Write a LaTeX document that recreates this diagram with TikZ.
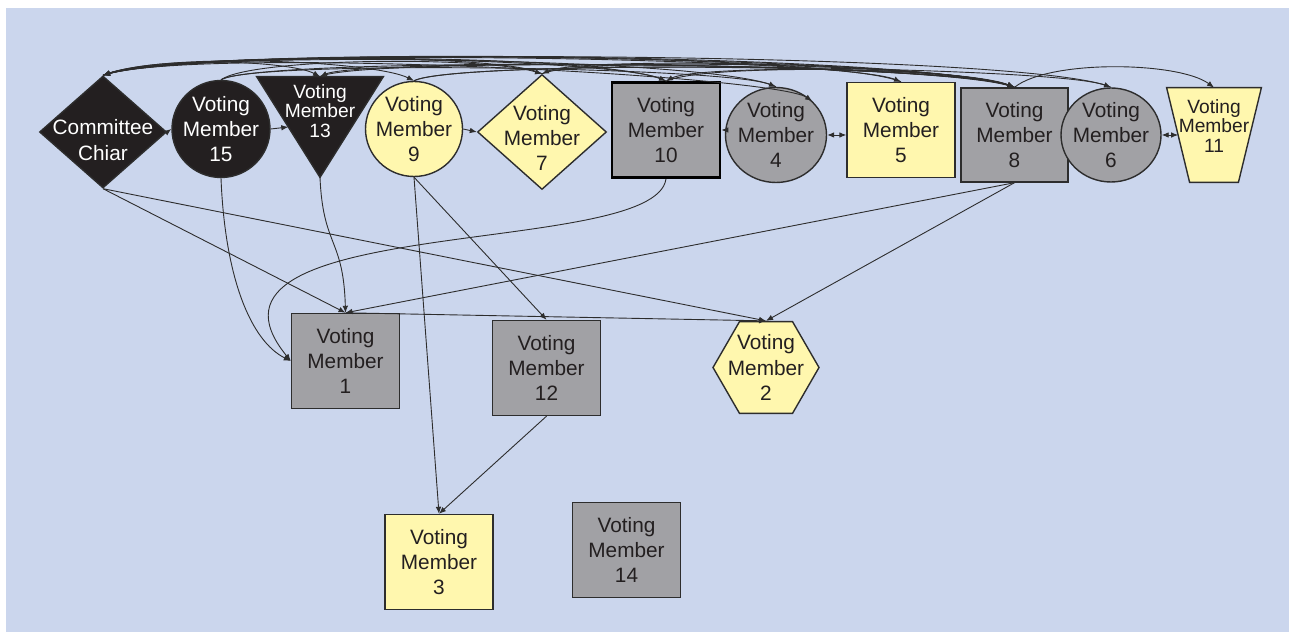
\documentclass[tikz,border=0pt]{standalone}
\usepackage{fontspec}
\setmainfont{Liberation Sans}
\usetikzlibrary{shapes.geometric,arrows.meta,calc}

\definecolor{bgblue}{RGB}{203,214,237}
\definecolor{memyellow}{RGB}{255,247,174}
\definecolor{memgray}{RGB}{161,161,165}
\definecolor{memblack}{RGB}{35,31,32}
\definecolor{lineblack}{RGB}{45,45,45}

\tikzset{
  member/.style={draw=lineblack, line width=0.7pt, inner sep=-8pt, align=center,
    text=memblack, font=\fontsize{10.4}{12.6}\selectfont},
  sqbox/.style={member, rectangle, minimum width=54pt, minimum height=47.5pt},
  rnd/.style={member, ellipse},
  diam/.style={member, diamond, inner sep=0pt},
  yel/.style={fill=memyellow},
  gry/.style={fill=memgray},
  blk/.style={fill=memblack, text=white},
  frame/.style={inner sep=0pt},
  memtext/.style={align=center, inner sep=0pt, text=memblack, font=\fontsize{10.4}{12.6}\selectfont},
  narrow/.style={align=center, inner sep=0pt, text=memblack, font=\fontsize{9.6}{9.9}\selectfont},
  edge/.style={draw=lineblack, line width=0.45pt, -{Latex[length=3.5pt,width=2.8pt]}},
  twoway/.style={edge, {Latex[length=3.5pt,width=2.8pt]}-{Latex[length=3.5pt,width=2.8pt]}},
}

\begin{document}
\begin{tikzpicture}[x=0.5pt,y=0.5pt]
  \fill[white] (0,0) rectangle (1289,632);
  \fill[bgblue] (6,0) rectangle (1289,624);
  \useasboundingbox (0,0) rectangle (1289,632);

  % top row
  \node[diam, blk, minimum width=63.5pt, minimum height=56pt] (chair) at (103,500) {};
  \node[memtext, text=white] (chairtext) at (103,492) {Committee\\Chiar};
  \node[rnd, blk, minimum width=49pt, minimum height=48.5pt] (vm15) at (221,503) {Voting\\Member\\15};
  \node[frame, minimum width=63pt, minimum height=50pt] (vm13) at (320,505) {};
  \filldraw[fill=memblack, draw=lineblack, line width=0.7pt] (vm13.north west) -- (vm13.north east) -- (vm13.south) -- cycle;
  \node[narrow, text=white] (vm13text) at (320,521) {Voting\\Member\\13};
  \node[rnd, yel, minimum width=48.5pt, minimum height=47.5pt] (vm9) at (414,503) {Voting\\Member\\9};
  \node[diam, yel, minimum width=64.5pt, minimum height=57.5pt] (vm7) at (542,500) {};
  \node[memtext] (vm7text) at (542,494) {Voting\\Member\\7};
  \node[sqbox, gry, draw=black, line width=1.4pt] (vm10) at (666,502) {Voting\\Member\\10};
  \node[rnd, gry, minimum width=50.5pt, minimum height=47.5pt] (vm4) at (776,497) {Voting\\Member\\4};
  \node[sqbox, yel] (vm5) at (901,502) {Voting\\Member\\5};
  \node[sqbox, gry, minimum width=53.5pt, minimum height=47pt] (vm8) at (1014.5,497) {Voting\\Member\\8};
  \node[rnd, gry, minimum width=50pt, minimum height=47pt] (vm6) at (1111,497) {Voting\\Member\\6};
  \node[frame, minimum width=47pt, minimum height=47pt] (vm11) at (1214,497) {};
  \filldraw[fill=memyellow, draw=lineblack, line width=0.7pt] (vm11.north west) -- (vm11.north east)
    -- ($(vm11.south east)+(-23,0)$) -- ($(vm11.south west)+(23,0)$) -- cycle;
  \node[narrow] (vm11text) at (1214,506) {Voting\\Member\\11};

  % lower rows
  \node[sqbox, gry] (vm1) at (345.5,271) {Voting\\Member\\1};
  \node[sqbox, gry] (vm12) at (546.5,264) {Voting\\Member\\12};
  \node[member, yel, regular polygon, regular polygon sides=6, minimum size=53pt] (vm2) at (766,264.5) {Voting\\Member\\2};
  \node[sqbox, yel] (vm3) at (439,70) {Voting\\Member\\3};
  \node[sqbox, gry] (vm14) at (626.5,82) {Voting\\Member\\14};

  % short links in the top row
  \draw[edge] (chair.east) -- (vm15.west);
  \draw[edge] (vm15.east) -- ($(vm13.north west)!0.5!(vm13.south)$);
  \draw[edge] (vm9.east) -- (vm7.west);
  \draw[edge] (vm4.west |- vm10.east) -- (vm10.east);
  \draw[twoway] (vm4.east) -- (vm4.east -| vm5.west);
  \draw[twoway] (vm6.east) -- ($(vm11.west)+(11.5,0)$);

  % bundle over the top row
  \draw[edge] (vm8.north) .. controls +(-80,34) and +(90,30) .. (chair.north);
  \draw[edge] (vm6.north) .. controls +(-80,36) and +(95,28) .. (chair.north);
  \draw[edge] (vm5.north) .. controls +(-70,30) and +(85,27) .. (chair.north);
  \draw[edge] (vm4.north) .. controls +(-60,30) and +(80,25) .. (chair.north);
  \draw[edge] (vm10.north) .. controls +(-50,28) and +(75,24) .. (chair.north);
  \draw[edge] (vm7.north) .. controls +(-40,22) and +(60,20) .. (chair.north);
  \draw[edge] (chair.north) .. controls +(90,32) and +(-80,30) .. (vm8.north);
  \draw[edge] (chair.north) .. controls +(50,20) and +(-30,16) .. (vm13.north);
  \draw[edge] (chair.north) .. controls +(60,24) and +(-40,20) .. (vm9.north);
  \draw[edge] (chair.north) .. controls +(80,28) and +(-50,22) .. (vm10.north);
  \draw[edge] (chair.north) .. controls +(90,30) and +(-40,26) .. (vm4.north east);
  \draw[edge] (chair.north) .. controls +(90,30) and +(-60,24) .. (vm5.north);
  \draw[edge] (vm15.north) .. controls +(30,22) and +(-60,18) .. (vm7.north);
  \draw[edge] (vm15.north) .. controls +(40,24) and +(-80,26) .. (vm8.north);
  \draw[edge] (vm15.north) .. controls +(30,20) and +(-50,20) .. (vm4.north);
  \draw[edge] (vm13.north) .. controls +(40,20) and +(-70,24) .. (vm8.north);
  \draw[edge] (vm9.north) .. controls +(40,20) and +(-70,24) .. (vm8.north);
  \draw[edge] (vm9.north) .. controls +(40,22) and +(-60,22) .. (vm6.north);
  \draw[edge] (vm7.north) .. controls +(40,18) and +(-60,22) .. (vm8.north);
  \draw[edge] (vm10.north) .. controls +(40,18) and +(-50,20) .. (vm8.north);
  \draw[edge] (vm8.north) .. controls +(-70,26) and +(40,18) .. (vm13.north);
  \draw[edge] (vm8.north) .. controls +(-60,24) and +(40,18) .. (vm7.north);
  \draw[edge] (vm8.north) .. controls +(-50,22) and +(30,16) .. (vm10.north);
  \draw[edge] (vm8.north) .. controls +(35,28) and +(-35,26) .. (vm11.north);

  % links down to the lower rows
  \draw[edge] (chair.south) -- (vm1.north);
  \draw[edge] (chair.south) -- (vm2.north);
  \draw[edge] (vm15.south) .. controls +(4,-100) and +(-40,20) .. (vm1.west);
  \draw[edge] (vm13.south) .. controls +(3,-70) and +(-2,75) .. (vm1.north);
  \draw[edge] (vm10.south) .. controls +(-11,-80) and +(-122,149) .. (vm1.west);
  \draw[edge] (vm8.south) -- (vm1.north);
  \draw[edge] (vm8.south) -- (vm2.north);
  \draw[edge] (vm9.south) -- (vm3.north);
  \draw[edge] (vm9.south) -- (vm12.north);
  \draw[edge] (vm12.south) -- (vm3.north);
  \draw[edge] (vm1.north) -- (vm2.north);
\end{tikzpicture}
\end{document}
